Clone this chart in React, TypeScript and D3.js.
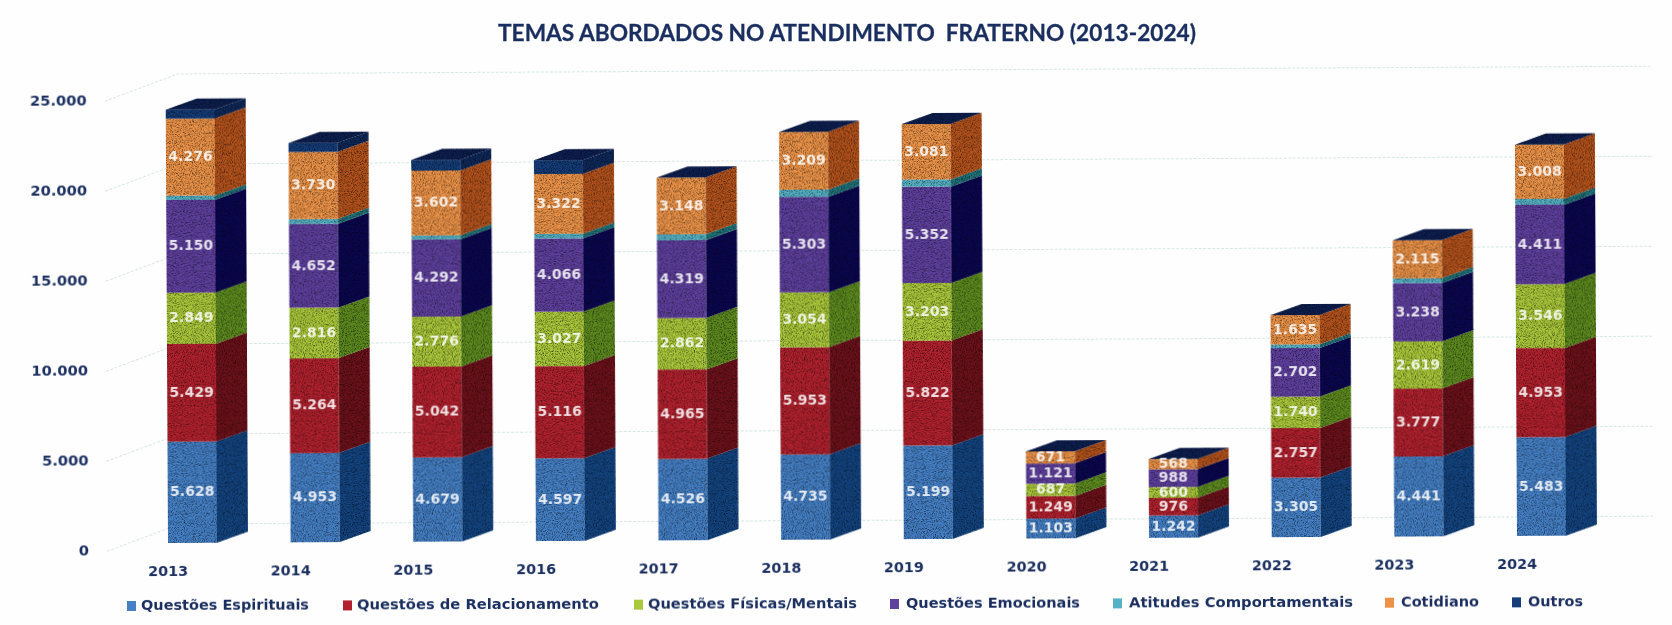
import React from "react";
import * as d3 from "d3";

const title = "TEMAS ABORDADOS NO ATENDIMENTO  FRATERNO (2013-2024)";
const years = ["2013","2014","2015","2016","2017","2018","2019","2020","2021","2022","2023","2024"];
const espirituais = [5628,4953,4679,4597,4526,4735,5199,1103,1242,3305,4441,5483];
const relacionamento = [5429,5264,5042,5116,4965,5953,5822,1249,976,2757,3777,4953];
const fisicas = [2849,2816,2776,3027,2862,3054,3203,687,600,1740,2619,3546];
const emocionais = [5150,4652,4292,4066,4319,5303,5352,1121,988,2702,3238,4411];
const atitudes = [240,270,220,260,330,400,400,0,0,200,270,330];
const cotidiano = [4276,3730,3602,3322,3148,3209,3081,671,568,1635,2115,3008];
const outros = [500,500,600,770,0,0,0,0,0,0,0,0];
const yTicks = [0,5000,10000,15000,20000,25000];

const seriesNames = ["Questões Espirituais","Questões de Relacionamento","Questões Físicas/Mentais","Questões Emocionais","Atitudes Comportamentais","Cotidiano","Outros"];
const seriesValues = [espirituais,relacionamento,fisicas,emocionais,atitudes,cotidiano,outros];
const frontColors = ["#4580c6","#b2212e","#aac83a","#5f409f","#55b2c6","#ec9348","#143c78"];
const sideColors = ["#134480","#6c111a","#5c8a1e","#0b0750","#1f7278","#b3521c","#0e2858"];
const legendMarkX = [127,343,634,890,1113,1385,1512];
const legendTextX = [141,357,648,906,1129,1401,1528];
const legendTextW = [168,242,209,174,224,78,55];

const navy = "#1a2f5f";
const fontBold = "'DejaVu Sans', sans-serif";

const rows = years.map((_, i) => Object.fromEntries(seriesNames.map((n, s) => [n, seriesValues[s][i]])));
const stacked = d3.stack<any>().keys(seriesNames)(rows);

const x = d3.scalePoint<string>().domain(years).range([168, 1517]);
const y = d3.scaleLinear().domain([0, 25000]).range([543, 93]);
const fmt = (v: number) => d3.format(",")(v).replace(/,/g, ".");

const W = 49, DX = 31, DY = -11;

export default function App() {
  return (
    <svg width={1672} height={625} style={{ position: "absolute", left: 0, top: 0, background: "#fefefe" }}>
      <defs>
        <filter id="grain" x="-5%" y="-5%" width="110%" height="110%" colorInterpolationFilters="sRGB">
          <feGaussianBlur in="SourceGraphic" stdDeviation="0.5" result="soft" />
          <feTurbulence type="fractalNoise" baseFrequency="0.9" numOctaves={2} seed={4} result="noise" />
          <feColorMatrix in="noise" type="matrix" values="0 0 0 0 0  0 0 0 0 0  0 0 0 0 0  1.2 1.2 0 0 -1.1" result="dark" />
          <feComposite in="dark" in2="soft" operator="in" result="darkIn" />
          <feMerge><feMergeNode in="soft" /><feMergeNode in="darkIn" /></feMerge>
        </filter>
        <filter id="soft"><feGaussianBlur stdDeviation="0.4" /></filter>
      </defs>

      <text x={847} y={35} textAnchor="middle" dominantBaseline="middle" fontFamily="Lato, sans-serif" fontWeight={700}
        fontSize={23.5} fill={navy} stroke={navy} strokeWidth={0.3} textLength={698} lengthAdjust="spacingAndGlyphs" xmlSpace="preserve" filter="url(#soft)">{title}</text>

      <g transform="rotate(-0.3 168 543)">
        {yTicks.map(t => {
          const by = y(t) - 19;
          return (
            <path key={t} d={`M107 ${by + 27}L180 ${by}L1655 ${by}`} fill="none" stroke="#d8e8e6" strokeWidth={1} strokeDasharray="3 1.5" />
          );
        })}

        {yTicks.map(t => (
          <text key={t} x={89} y={y(t) + 7.5} textAnchor="end" dominantBaseline="middle" fontFamily={fontBold} fontWeight={700}
            fontSize={14.7} fill={navy} filter="url(#soft)">{fmt(t)}</text>
        ))}

        {years.map(yr => (
          <text key={yr} x={x(yr)!} y={572} textAnchor="middle" dominantBaseline="middle" fontFamily={fontBold} fontWeight={700}
            fontSize={14.4} fill={navy} filter="url(#soft)">{yr}</text>
        ))}

        <g filter="url(#grain)">
          {years.map((yr, i) => {
            const x0 = x(yr)!;
            const top = y(stacked[stacked.length - 1][i][1]);
            return (
              <g key={yr}>
                {stacked.map((s, k) => {
                  const [a, b] = s[i];
                  if (b <= a) return null;
                  const y0 = y(a), y1 = y(b);
                  return (
                    <g key={k}>
                      <rect x={x0} y={y1} width={W} height={y0 - y1} fill={frontColors[k]} />
                      <polygon points={`${x0 + W},${y0} ${x0 + W + DX},${y0 + DY} ${x0 + W + DX},${y1 + DY} ${x0 + W},${y1}`} fill={sideColors[k]} />
                    </g>
                  );
                })}
                <polygon points={`${x0},${top} ${x0 + DX},${top + DY} ${x0 + W + DX},${top + DY} ${x0 + W},${top}`} fill="#0d1f50" />
              </g>
            );
          })}
        </g>

        {years.map((yr, i) => (
          <g key={yr}>
            {stacked.map((s, k) => {
              if (k === 4 || k === 6) return null;
              const [a, b] = s[i];
              return (
                <text key={k} x={x(yr)! + W / 2} y={y((a + b) / 2)} textAnchor="middle" dominantBaseline="middle" fontFamily={fontBold}
                  fontWeight={700} fontSize={14} fill="#fff" fillOpacity={0.85} filter="url(#soft)">{fmt(b - a)}</text>
              );
            })}
          </g>
        ))}
      </g>

      <g transform="rotate(-0.15 127 606)">
        {seriesNames.map((n, k) => (
          <g key={n}>
            <rect x={legendMarkX[k]} y={601} width={9} height={10} fill={frontColors[k]} filter="url(#soft)" />
            <text x={legendTextX[k]} y={606} dominantBaseline="middle" fontFamily={fontBold} fontWeight={700} fontSize={13.5}
              fill={navy} textLength={legendTextW[k]} lengthAdjust="spacingAndGlyphs" filter="url(#soft)">{n}</text>
          </g>
        ))}
      </g>
    </svg>
  );
}
